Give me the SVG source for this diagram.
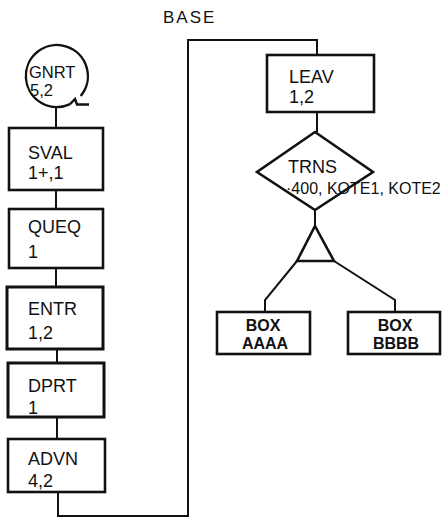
<svg xmlns="http://www.w3.org/2000/svg" width="443" height="518" viewBox="0 0 443 518">
<style>
.box{fill:#fff;stroke:#111;stroke-width:2.6}
.ln{fill:none;stroke:#111;stroke-width:2}
text{font-family:"Liberation Sans",Arial,sans-serif;font-size:18px;fill:#111}
.b{font-weight:bold;font-size:16px}
</style>
<rect width="443" height="518" fill="#fff"/>
<text x="163" y="23" style="font-size:17px;letter-spacing:2px">BASE</text>
<g id="connectors">
<line class="ln" x1="56" y1="106" x2="56" y2="128"/>
<line class="ln" x1="56" y1="190" x2="56" y2="209"/>
<line class="ln" x1="56" y1="268" x2="56" y2="287"/>
<line class="ln" x1="57" y1="349" x2="57" y2="363"/>
<line class="ln" x1="57" y1="417" x2="57" y2="439"/>
<polyline class="ln" points="58,492 58,516 188,516 188,40 317,40 317,55"/>
<line class="ln" x1="317" y1="112" x2="317" y2="132"/>
<line class="ln" x1="315" y1="210" x2="315" y2="226"/>
<polyline class="ln" points="297,261 265,300 265,312"/>
<polyline class="ln" points="334,261 395,300 395,312"/>
</g>
<g id="gnrt">
<path class="ln" d="M70.1,104.1 A31,31 0 1 1 80.7,95.9" style="stroke-width:2.4"/>
<path class="ln" d="M70.1,104.1 L75,99 L77,104.5 L89,104.5" style="stroke-width:2.4"/>
<text x="29" y="78" style="font-size:16.5px">GNRT</text>
<text x="30" y="96" style="font-size:16.5px">5,2</text>
</g>
<g id="sval">
<rect class="box" x="9" y="128" width="94" height="62"/>
<text x="28" y="159">SVAL</text>
<text x="28" y="179">1+,1</text>
</g>
<g id="queq">
<rect class="box" x="9" y="209" width="94" height="59"/>
<text x="28" y="233">QUEQ</text>
<text x="28" y="258">1</text>
</g>
<g id="entr">
<rect class="box" x="7" y="287" width="96" height="62" style="stroke-width:3"/>
<text x="28" y="315">ENTR</text>
<text x="28" y="339">1,2</text>
</g>
<g id="dprt">
<rect class="box" x="8" y="363" width="96" height="54" style="stroke-width:3"/>
<text x="28" y="392">DPRT</text>
<text x="28" y="414">1</text>
</g>
<g id="advn">
<rect class="box" x="8" y="439" width="97" height="53"/>
<text x="28" y="465">ADVN</text>
<text x="28" y="487">4,2</text>
</g>
<g id="leav">
<rect class="box" x="267" y="55" width="107" height="57"/>
<text x="289" y="83">LEAV</text>
<text x="289" y="103">1,2</text>
</g>
<g id="trns">
<polygon class="box" points="315,132 373,172 315,210 257,172"/>
<text x="288" y="173">TRNS</text>
<text x="286" y="194" style="font-size:16px">·400, KOTE1, KOTE2</text>
</g>
<g id="split">
<polygon class="box" points="315,226 334,261 297,261"/>
</g>
<g id="boxa">
<rect class="box" x="217" y="312" width="93" height="42"/>
<text class="b" x="263" y="331" text-anchor="middle">BOX</text>
<text class="b" x="265" y="349" text-anchor="middle">AAAA</text>
</g>
<g id="boxb">
<rect class="box" x="348" y="312" width="92" height="42"/>
<text class="b" x="395" y="331" text-anchor="middle">BOX</text>
<text class="b" x="396" y="349" text-anchor="middle">BBBB</text>
</g>
</svg>
